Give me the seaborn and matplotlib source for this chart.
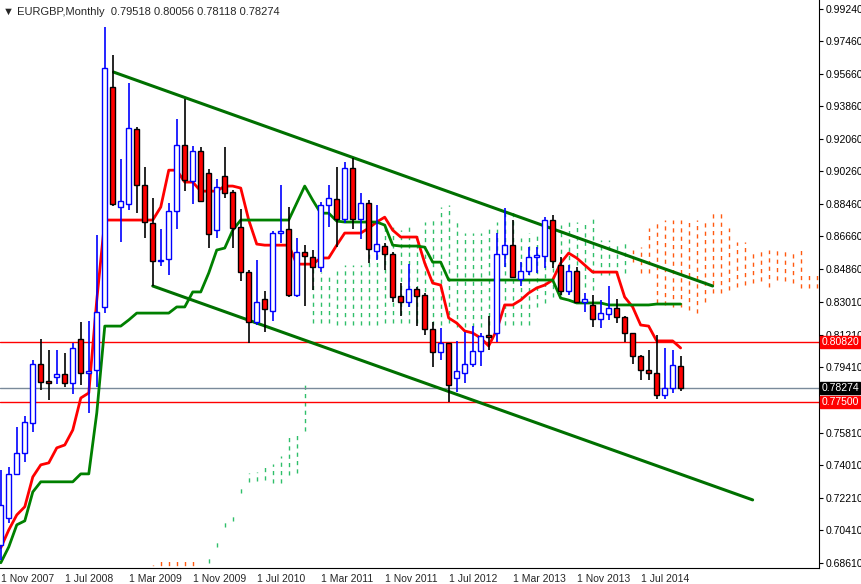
import numpy as np
import pandas as pd
import matplotlib
matplotlib.use("Agg")
import matplotlib.pyplot as plt
import seaborn as sns

# ---- data (monthly EURGBP, Nov 2007 .. Dec 2014) ----
opens = [0.6959,0.7109,0.7352,0.7468,0.7634,0.7960,0.7866,0.7888,0.7905,0.7855,
         0.8099,0.7911,0.7927,0.8276,0.9492,0.8829,0.8845,0.9260,0.8950,0.8740,
         0.8530,0.8541,0.8806,0.9171,0.8972,0.9138,0.9017,0.8701,0.9000,0.8912,
         0.8718,0.8469,0.8193,0.8320,0.8253,0.8685,0.8707,0.8342,0.8580,0.8552,
         0.8497,0.8840,0.8873,0.8762,0.9044,0.8762,0.8851,0.8585,0.8613,0.8569,
         0.8336,0.8303,0.8375,0.8342,0.8154,0.8027,0.8076,0.7883,0.7911,0.7960,
         0.8032,0.8121,0.8132,0.8569,0.8618,0.8430,0.8475,0.8552,0.8558,0.8757,
         0.8508,0.8364,0.8475,0.8303,0.8287,0.8209,0.8237,0.8270,0.8220,0.8132,
         0.8005,0.7927,0.7911,0.7789,0.7828,0.79518]
highs = [0.7374,0.7391,0.7612,0.7673,0.7982,0.8099,0.8038,0.8038,0.8021,0.8076,
         0.8193,0.8198,0.8674,0.9824,0.9669,0.9094,0.9514,0.9271,0.9050,0.8878,
         0.8707,0.8851,0.9315,0.9426,0.9166,0.9160,0.9039,0.8983,0.9160,0.8923,
         0.8817,0.8480,0.8535,0.8364,0.8696,0.8950,0.8829,0.8657,0.8618,0.8591,
         0.8856,0.8950,0.9050,0.9077,0.9100,0.8906,0.8867,0.8840,0.8629,0.8580,
         0.8408,0.8513,0.8386,0.8353,0.8193,0.8159,0.8076,0.8088,0.8137,0.8170,
         0.8132,0.8226,0.8685,0.8823,0.8757,0.8524,0.8607,0.8607,0.8773,0.8784,
         0.8552,0.8508,0.8497,0.8353,0.8342,0.8314,0.8392,0.8320,0.8226,0.8132,
         0.8010,0.8038,0.8121,0.8049,0.8038,0.80056]
lows = [0.6876,0.7081,0.7352,0.7418,0.7584,0.7817,0.7761,0.7850,0.7833,0.7794,
        0.7844,0.7689,0.7833,0.8242,0.8834,0.8635,0.8812,0.8795,0.8657,0.8392,
        0.8502,0.8453,0.8707,0.8917,0.8845,0.8856,0.8602,0.8657,0.8878,0.8602,
        0.8419,0.8076,0.8176,0.8137,0.8198,0.8629,0.8331,0.8331,0.8281,0.8370,
        0.8469,0.8718,0.8607,0.8740,0.8707,0.8652,0.8519,0.8535,0.8480,0.8303,
        0.8226,0.8276,0.8170,0.8121,0.7944,0.7982,0.7750,0.7805,0.7855,0.7944,
        0.7949,0.8038,0.8082,0.8497,0.8436,0.8392,0.8453,0.8464,0.8491,0.8491,
        0.8342,0.8342,0.8298,0.8248,0.8165,0.8159,0.8204,0.8187,0.8082,0.7960,
        0.7872,0.7872,0.7767,0.7767,0.7800,0.78118]
closes = [0.7181,0.7352,0.7468,0.7640,0.7960,0.7861,0.7855,0.7905,0.7855,0.8049,
          0.7911,0.7922,0.8248,0.9597,0.8845,0.8862,0.9265,0.8950,0.8746,0.8530,
          0.8535,0.8806,0.9171,0.8978,0.9138,0.8862,0.8679,0.8939,0.8906,0.8712,
          0.8469,0.8193,0.8303,0.8264,0.8685,0.8696,0.8342,0.8580,0.8558,0.8497,
          0.8840,0.8878,0.8762,0.9044,0.8762,0.8851,0.8596,0.8624,0.8569,0.8331,
          0.8303,0.8375,0.8336,0.8154,0.8027,0.8076,0.7844,0.7922,0.7960,0.8032,
          0.8115,0.8110,0.8569,0.8618,0.8441,0.8475,0.8552,0.8563,0.8757,0.8530,
          0.8364,0.8475,0.8303,0.8320,0.8209,0.8242,0.8270,0.8220,0.8132,0.8005,
          0.7927,0.7911,0.7789,0.7828,0.7955,0.78274]

tenkan = [0.6943,0.7042,0.7125,0.7170,0.7335,0.7402,0.7413,0.7496,0.7512,0.7595,
          0.7772,0.7800,0.8314,0.8757,0.8757,0.8757,0.8757,0.8757,0.8757,0.8757,
          0.8829,0.9033,0.9033,0.8967,0.8967,0.8917,0.8917,0.8917,0.8945,0.8945,
          0.8934,0.8757,0.8624,0.8618,0.8618,0.8618,0.8618,0.8513,0.8513,0.8513,
          0.8547,0.8547,0.8618,0.8685,0.8685,0.8685,0.8712,0.8746,0.8773,0.8701,
          0.8663,0.8663,0.8663,0.8519,0.8408,0.8397,0.8215,0.8187,0.8143,0.8132,
          0.8104,0.8060,0.8148,0.8287,0.8287,0.8314,0.8353,0.8381,0.8397,0.8425,
          0.8519,0.8574,0.8547,0.8508,0.8469,0.8469,0.8469,0.8469,0.8331,0.8276,
          0.8176,0.8170,0.8088,0.8088,0.8088,0.8049]
kijun = [0.6860,0.6948,0.7070,0.7092,0.7252,0.7308,0.7308,0.7308,0.7308,0.7308,
         0.7352,0.7352,0.7689,0.8170,0.8170,0.8170,0.8204,0.8242,0.8242,0.8242,
         0.8242,0.8242,0.8276,0.8276,0.8359,0.8359,0.8464,0.8591,0.8602,0.8701,
         0.8757,0.8757,0.8757,0.8757,0.8757,0.8757,0.8757,0.8851,0.8945,0.8867,
         0.8795,0.8795,0.8751,0.8746,0.8746,0.8746,0.8746,0.8746,0.8729,0.8618,
         0.8613,0.8613,0.8613,0.8607,0.8524,0.8524,0.8425,0.8425,0.8425,0.8425,
         0.8425,0.8425,0.8425,0.8425,0.8425,0.8425,0.8425,0.8425,0.8425,0.8425,
         0.8325,0.8314,0.8298,0.8298,0.8298,0.8298,0.8287,0.8287,0.8287,0.8287,
         0.8287,0.8287,0.8292,0.8292,0.8292,0.8292]

# cloud columns (month index, top, bottom)
cloud_green_idx = list(range(26, 79))
cloud_green_top = [0.6899,0.6987,0.7103,0.7136,0.7286,0.7358,0.7363,0.7402,0.7407,0.7452,
                   0.7562,0.7573,0.7861,0.8535,0.8469,0.8464,0.8475,0.8508,0.8508,0.8508,
                   0.8580,0.8607,0.8729,0.8718,0.8701,0.8718,0.8685,0.8746,0.8773,0.8829,
                   0.8840,0.8746,0.8685,0.8685,0.8685,0.8718,0.8746,0.8795,0.8812,0.8657,
                   0.8685,0.8685,0.8718,0.8718,0.8729,0.8746,0.8746,0.8740,0.8768,0.8646,
                   0.8646,0.8635,0.8635]
cloud_green_bot = [0.6860,0.6948,0.7059,0.7092,0.7247,0.7308,0.7313,0.7319,0.7302,0.7302,
                   0.7347,0.7358,0.7590,0.8187,0.8187,0.8187,0.8176,0.8176,0.8176,0.8176,
                   0.8176,0.8176,0.8187,0.8187,0.8187,0.8187,0.8187,0.8176,0.8176,0.8176,
                   0.8187,0.8165,0.8165,0.8165,0.8165,0.8176,0.8176,0.8176,0.8176,0.8176,
                   0.8176,0.8276,0.8298,0.8331,0.8342,0.8353,0.8370,0.8386,0.8370,0.8453,
                   0.8453,0.8453,0.8464]
cloud_orange_idx = list(range(19, 26)) + list(range(79, 103))
cloud_orange_top = [0.6849,0.6871,0.6882,0.6882,0.6882,0.6871,0.6843,
                    0.8591,0.8607,0.8712,0.8757,0.8757,0.8757,0.8757,0.8757,0.8757,0.8757,
                    0.8795,0.8795,0.8712,0.8635,0.8635,0.8591,0.8591,0.8591,0.8591,
                    0.8591,0.8591,0.8591,0.8464,0.8464]
cloud_orange_bot = [0.6800,0.6800,0.6800,0.6800,0.6800,0.6800,0.6800,
                    0.8524,0.8464,0.8464,0.8298,0.8287,0.8276,0.8276,0.8259,0.8242,0.8303,
                    0.8353,0.8353,0.8370,0.8386,0.8397,0.8408,0.8419,0.8386,0.8425,0.8419,
                    0.8408,0.8381,0.8381,0.8381]

upper_trend_idx = [14.1, 89.0]
upper_trend_px = [0.9576, 0.8392]
lower_trend_idx = [19.0, 94.0]
lower_trend_px = [0.8392, 0.7208]

support_levels = [0.80820, 0.77500]
last_price = 0.78274

tick_values = [0.99240,0.97460,0.95660,0.93860,0.92060,0.90260,0.88460,0.86660,
               0.84860,0.83010,0.81210,0.79410,0.75810,0.74010,0.72210,0.70410,0.68610]
date_ticks = [0, 8, 16, 24, 32, 40, 48, 56, 64, 72, 80]
date_labels = ["1 Nov 2007","1 Jul 2008","1 Mar 2009","1 Nov 2009","1 Jul 2010",
               "1 Mar 2011","1 Nov 2011","1 Jul 2012","1 Mar 2013","1 Nov 2013","1 Jul 2014"]

# ---- drawing ----
sns.set_style("white")
plt.rcParams['font.family'] = ['Liberation Sans', 'DejaVu Sans']
fig = plt.figure(figsize=(8.62, 5.84), dpi=100)
ax = fig.add_axes([0.0, (584 - 568) / 584, 819 / 862, 568 / 584])

df = pd.DataFrame({"i": np.arange(len(opens)), "o": opens, "h": highs, "l": lows, "c": closes,
                   "tenkan": tenkan, "kijun": kijun})

ax.vlines(cloud_green_idx, cloud_green_bot, cloud_green_top, colors="#2fbf6a",
          linestyles=(0, (3, 3)), linewidth=1.0, zorder=1)
ax.vlines(cloud_orange_idx, cloud_orange_bot, cloud_orange_top, colors="#ff5a10",
          linestyles=(0, (3, 3)), linewidth=1.0, zorder=1)

for lv in support_levels:
    ax.axhline(lv, color="red", lw=1.0, zorder=2)
ax.axhline(last_price, color="#7a8a9a", lw=1.0, zorder=2)

sns.lineplot(data=df, x="i", y="tenkan", color="#ff0000", lw=2, ax=ax, zorder=4)
sns.lineplot(data=df, x="i", y="kijun", color="#008000", lw=2, ax=ax, zorder=4)

ax.plot(upper_trend_idx, upper_trend_px, color="#007000", lw=2.2, zorder=5)
ax.plot(lower_trend_idx, lower_trend_px, color="#007000", lw=2.2, zorder=5)

w = 0.6
for r in df.itertuples():
    up = r.c >= r.o
    wick = "blue" if up else "black"
    ax.vlines(r.i, r.l, r.h, color=wick, lw=1.2, zorder=6)
    lo, hi = min(r.o, r.c), max(r.o, r.c)
    hgt = max(hi - lo, 0.0006)
    ax.add_patch(plt.Rectangle((r.i - w / 2, lo), w, hgt,
                               facecolor="white" if up else "red",
                               edgecolor="blue" if up else "black", lw=1.0, zorder=7))

ax.set_xlim(-0.1, 102.3)
ax.set_ylim(0.6831, 0.9975)
ax.set_xlabel("")
ax.set_ylabel("")
for s in ["top", "left"]:
    ax.spines[s].set_visible(False)
ax.spines["right"].set_color("black")
ax.spines["bottom"].set_color("black")
ax.yaxis.tick_right()
ax.set_yticks(tick_values)
ax.set_yticklabels([f"{v:.5f}" for v in tick_values], fontsize=7.5)
ax.tick_params(axis="y", direction="out", length=3, pad=1.5, colors="black")
ax.set_xticks(date_ticks)
ax.set_xticklabels(date_labels, fontsize=7.5, ha="left")
ax.tick_params(axis="x", direction="out", length=3, pad=1)

def price_box(v, fc):
    ax.text(1.003, v, f"{v:.5f}", transform=ax.get_yaxis_transform(), fontsize=7.5,
            color="white", va="center", ha="left",
            bbox=dict(boxstyle="square,pad=0.12", fc=fc, ec=fc), zorder=10, clip_on=False)
for lv in support_levels:
    price_box(lv, "red")
price_box(last_price, "black")

fig.text(0.004, 0.988, "▼ EURGBP,Monthly  0.79518 0.80056 0.78118 0.78274",
         fontsize=8, va="top", ha="left")

fig.savefig("out.png", dpi=100)
